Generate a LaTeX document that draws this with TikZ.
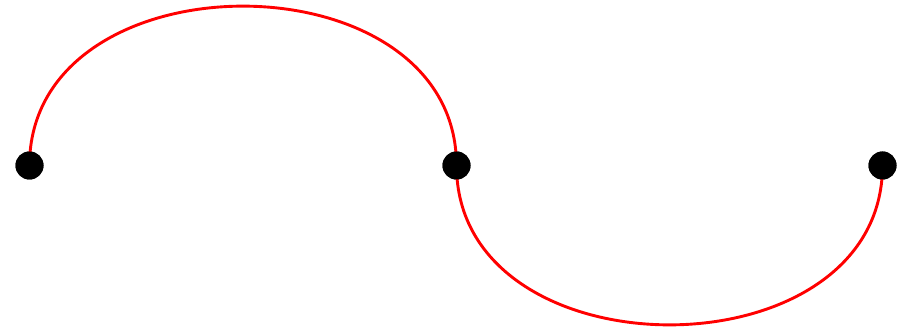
\documentclass[tikz,border=0pt]{standalone}
\begin{document}
\begin{tikzpicture}[x=1pt,y=-1pt,
  dot/.style={circle,fill=black,inner sep=0pt,minimum size=28pt},
  arc/.style={red,line width=2.9pt}]
\useasboundingbox (0,0) rectangle (903,331);
\node[dot] (a) at (29.5,165.5) {};
\node[dot] (b) at (456.5,165.5) {};
\node[dot] (c) at (882.5,165.5) {};
\draw[arc] (a.center) .. controls (29.5,-47) and (456.5,-47) .. (b.center);
\draw[arc] (b.center) .. controls (456.5,378) and (882.5,378) .. (c.center);
\node[dot] at (a) {};
\node[dot] at (b) {};
\node[dot] at (c) {};
\end{tikzpicture}
\end{document}
